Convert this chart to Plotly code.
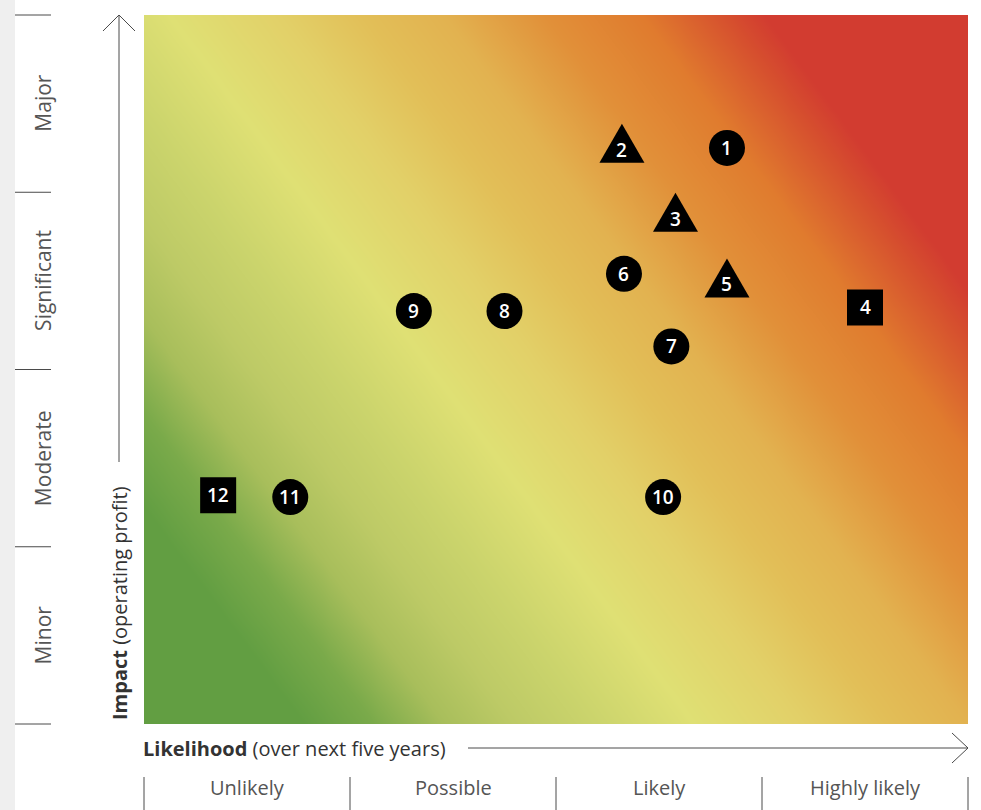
import numpy as np
import plotly.graph_objects as go

# ---------------- data ----------------
likelihood_labels = ["Unlikely", "Possible", "Likely", "Highly likely"]
impact_labels = ["Minor", "Moderate", "Significant", "Major"]

risk_ids = ["1", "2", "3", "4", "5", "6", "7", "8", "9", "10", "11", "12"]
risk_likelihood = [2.83, 2.32, 2.58, 3.50, 2.83, 2.33, 2.56, 1.75, 1.31, 2.52, 0.71, 0.36]
risk_impact = [3.25, 3.24, 2.85, 2.35, 2.48, 2.54, 2.13, 2.33, 2.33, 1.28, 1.28, 1.29]
risk_shape = ["circle", "triangle", "triangle", "square", "triangle", "circle",
              "circle", "circle", "circle", "circle", "circle", "square"]

# ---------------- layout constants ----------------
W, H = 981, 810
ML, MR, MT, MB = 144, 13, 15, 86
PW, PH = W - ML - MR, H - MT - MB
NX, NY = len(likelihood_labels), len(impact_labels)

def px2paper_x(px):
    return (px - ML) / PW

def px2paper_y(py):
    return (H - MB - py) / PH

FONT = "Open Sans"
GREY = "#555555"
LINE = "#4a4a4a"

fig = go.Figure()

# background gradient (decorative)
gx = np.linspace(0, NX, 121)
gy = np.linspace(0, NY, 121)
GX, GY = np.meshgrid(gx, gy)
sx, sy = PW / NX, PH / NY
YW = 0.74
T = (sx * GX + YW * sy * GY)
TMAX = PW + YW * PH
stops = [
    (0, "#629e42"), (160, "#629e42"), (230, "#7aaa4a"), (300, "#a8be5b"),
    (371, "#bdca66"), (453, "#cbd46c"), (550, "#dfe074"), (659, "#e2d068"),
    (742, "#e2bf58"), (824, "#e2b250"), (925, "#e19039"), (1022, "#e07b2e"),
    (1105, "#d6502e"), (1145, "#d23c30"), (TMAX, "#d23c30"),
]
colorscale = [[t / TMAX, c] for t, c in stops]
fig.add_trace(go.Heatmap(x=gx, y=gy, z=T, zmin=0, zmax=TMAX, colorscale=colorscale,
                         zsmooth="best", showscale=False, hoverinfo="skip"))

# circle / square markers
ms_x = [x for x, s in zip(risk_likelihood, risk_shape) if s != "triangle"]
ms_y = [y for y, s in zip(risk_impact, risk_shape) if s != "triangle"]
ms_sym = [s for s in risk_shape if s != "triangle"]
fig.add_trace(go.Scatter(x=ms_x, y=ms_y, mode="markers",
                         marker=dict(symbol=ms_sym, size=36, color="black",
                                     line=dict(width=0)),
                         hoverinfo="skip", showlegend=False))

shapes = []
# triangles anchored at data points, pixel-sized
for x, y, s in zip(risk_likelihood, risk_impact, risk_shape):
    if s == "triangle":
        shapes.append(dict(type="path", xref="x", yref="y", xsizemode="pixel",
                           ysizemode="pixel", xanchor=x, yanchor=y,
                           path="M -22.5,-13 L 22.5,-13 L 0,26 Z",
                           fillcolor="black", line=dict(width=0), layer="above"))

annotations = []
for x, y, t in zip(risk_likelihood, risk_impact, risk_ids):
    annotations.append(dict(x=x, y=y, xref="x", yref="y", text=t, showarrow=False,
                            xanchor="center", yanchor="middle",
                            font=dict(family=FONT, size=19, color="white", weight=600)))

# grey strip at far left
shapes.append(dict(type="rect", xref="paper", yref="paper",
                   x0=px2paper_x(0), x1=px2paper_x(15), y0=px2paper_y(H), y1=px2paper_y(0),
                   fillcolor="#efefef", line=dict(width=0), layer="below"))

# impact band boundaries and labels
for b in range(NY + 1):
    yp = b / NY
    shapes.append(dict(type="line", xref="paper", yref="paper",
                       x0=px2paper_x(15), x1=px2paper_x(51), y0=yp, y1=yp,
                       line=dict(color=LINE, width=1)))
for i, lab in enumerate(impact_labels):
    annotations.append(dict(x=px2paper_x(43), y=(i + 0.5) / NY, xref="paper", yref="paper",
                            text=lab, textangle=-90, showarrow=False,
                            xanchor="center", yanchor="middle",
                            font=dict(family=FONT, size=21, color=GREY)))

# likelihood band boundaries and labels
for b in range(NX + 1):
    xp = b / NX
    shapes.append(dict(type="line", xref="paper", yref="paper",
                       x0=xp, x1=xp, y0=px2paper_y(777), y1=px2paper_y(H),
                       line=dict(color=LINE, width=1)))
for i, lab in enumerate(likelihood_labels):
    annotations.append(dict(x=(i + 0.5) / NX, y=px2paper_y(787), xref="paper", yref="paper",
                            text=lab, showarrow=False, xanchor="center", yanchor="middle",
                            font=dict(family=FONT, size=20, color=GREY)))

# vertical axis arrow
shapes.append(dict(type="line", xref="paper", yref="paper",
                   x0=px2paper_x(119), x1=px2paper_x(119), y0=px2paper_y(462), y1=px2paper_y(15),
                   line=dict(color=LINE, width=1)))
shapes.append(dict(type="path", xref="paper", yref="paper",
                   path="M {:.5f},{:.5f} L {:.5f},{:.5f} L {:.5f},{:.5f}".format(
                       px2paper_x(103), px2paper_y(31), px2paper_x(119), px2paper_y(15),
                       px2paper_x(135), px2paper_y(31)),
                   line=dict(color=LINE, width=1)))
annotations.append(dict(x=px2paper_x(119), y=px2paper_y(603), xref="paper", yref="paper",
                        text="<b>Impact</b> (operating profit)", textangle=-90,
                        showarrow=False, xanchor="center", yanchor="middle",
                        font=dict(family=FONT, size=20, color="#333333")))

# horizontal axis arrow
shapes.append(dict(type="line", xref="paper", yref="paper",
                   x0=px2paper_x(468), x1=px2paper_x(968), y0=px2paper_y(748), y1=px2paper_y(748),
                   line=dict(color=LINE, width=1)))
shapes.append(dict(type="path", xref="paper", yref="paper",
                   path="M {:.5f},{:.5f} L {:.5f},{:.5f} L {:.5f},{:.5f}".format(
                       px2paper_x(952), px2paper_y(733), px2paper_x(968), px2paper_y(748),
                       px2paper_x(952), px2paper_y(763)),
                   line=dict(color=LINE, width=1)))
annotations.append(dict(x=0, y=px2paper_y(748), xref="paper", yref="paper",
                        text="<b>Likelihood</b> (over next five years)",
                        showarrow=False, xanchor="left", yanchor="middle", xshift=-3,
                        font=dict(family=FONT, size=20, color="#333333")))

fig.update_layout(
    width=W, height=H,
    margin=dict(l=ML, r=MR, t=MT, b=MB),
    paper_bgcolor="white", plot_bgcolor="white",
    xaxis=dict(range=[0, NX], visible=False, fixedrange=True),
    yaxis=dict(range=[0, NY], visible=False, fixedrange=True),
    shapes=shapes, annotations=annotations, showlegend=False,
)

fig.write_html("out.html", config={"displayModeBar": False},
               post_script="document.body.style.margin='0';")
